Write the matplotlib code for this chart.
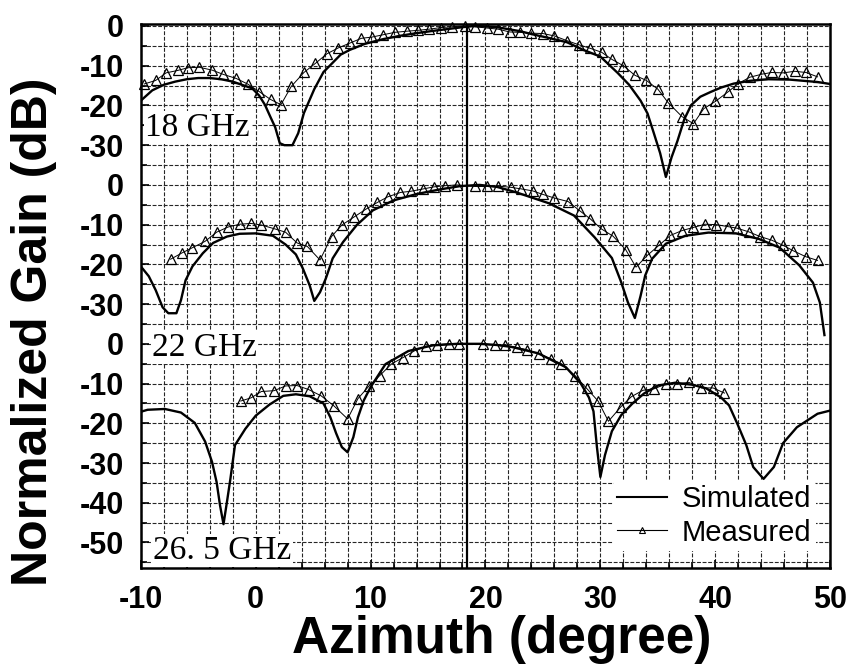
import matplotlib

matplotlib.use("Agg")

import numpy as np
import matplotlib.pyplot as plt
from matplotlib.lines import Line2D
from matplotlib.ticker import FixedLocator, MultipleLocator

plt.rcParams["axes.unicode_minus"] = False

# ---- Data (dB, each band normalized to its own 0 dB) ----
# 18 GHz
sim18_x = [-10, -9, -8, -7, -6, -5, -4, -3, -2, -1, -0.3, 0.3, 0.8, 1.3, 1.7,
           2.1, 2.5, 3.2, 3.7, 4.2, 5.1, 5.9, 7.4, 8.2, 9.5, 11.1, 12.5, 14,
           15.5, 16.9, 18, 19, 20, 21, 22, 23, 24.1, 25.5, 27.1, 28.5, 30,
           31.5, 32.5, 33.5, 34.1, 34.6, 35.2, 35.7, 36.2, 36.7, 37.3, 37.9,
           38.7, 39.6, 40.5, 41.6, 43, 44.6, 46.5, 48.9, 50]
sim18_y = [-18.8, -16.2, -14.8, -14.0, -13.4, -13.1, -13.1, -13.4, -14.0,
           -15.0, -15.7, -17.5, -19.8, -23.0, -25.5, -29.5, -30.0, -30.0,
           -27.0, -21.9, -15.9, -11.6, -7.2, -6.0, -4.5, -3.3, -2.5, -1.8,
           -1.2, -0.7, -0.3, 0.0, -0.1, -0.3, -0.8, -1.3, -2.1, -3.0, -4.1,
           -6.0, -7.7, -11.8, -14.8, -18.8, -22.0, -26.5, -32.0, -38.0, -33.0,
           -29.0, -23.5, -19.9, -17.8, -16.6, -15.5, -14.5, -13.8, -13.4,
           -13.5, -14.1, -14.6]
meas18_x = [-9.7, -8.7, -7.8, -6.8, -5.9, -4.9, -3.8, -2.8, -1.7, -0.7, 0.3,
            1.3, 2.2, 3.1, 4.2, 5.2, 6.2, 7.2, 8.2, 9.2, 10.1, 11.1, 12.1,
            13.2, 14.1, 15.1, 16.1, 17.1, 18.2, 19.1, 20.1, 21.1, 22.1, 23.0,
            24.0, 25.0, 26.0, 27.1, 28.1, 29.1, 30.1, 31.0, 32.0, 33.0, 34.0,
            35.0, 35.9, 37.1, 38.1, 39.0, 40.0, 41.1, 42.0, 43.0, 44.1, 44.9,
            45.9, 46.9, 47.9, 48.9]
meas18_y = [-14.6, -13.7, -11.8, -11.2, -10.5, -10.4, -11.1, -12.2, -13.2,
            -14.6, -16.5, -18.5, -19.8, -15.2, -11.7, -9.4, -7.0, -5.5, -4.3,
            -3.1, -2.8, -2.2, -1.6, -1.3, -1.1, -0.8, -0.4, -0.2, 0.0, -0.2,
            -0.5, -0.8, -1.5, -1.6, -1.8, -1.9, -2.5, -3.7, -4.7, -5.6, -6.6,
            -8.4, -10.0, -12.4, -13.7, -15.9, -19.3, -22.8, -24.6, -20.8,
            -19.0, -16.6, -14.5, -12.9, -12.1, -11.7, -11.8, -11.4, -11.7,
            -12.8]

# 22 GHz
sim22_x = [-10, -9.3, -8.7, -8.1, -7.6, -6.9, -6.5, -6.1, -5.5, -4.6, -3.7,
           -2.5, -1.4, 0, 1.5, 2.6, 3.5, 4.1, 4.7, 5.1, 5.6, 6.1, 6.7, 7.6,
           8.8, 10.2, 12, 14, 16.1, 17.8, 19.5, 21, 22.6, 25.5, 27.7, 29.5,
           31, 31.8, 32.4, 33, 33.5, 33.9, 34.5, 35.7, 37.4, 39.4, 41.8, 43.8,
           45.6, 47.3, 48.5, 49.1, 49.5]
sim22_y = [-20.5, -23.0, -26.5, -30.8, -32.3, -32.3, -29.0, -24.0, -20.5,
           -17.2, -14.6, -13.0, -12.3, -12.2, -12.8, -15.0, -17.5, -21.0,
           -25.3, -29.2, -27.0, -23.6, -18.5, -14.4, -10.1, -6.4, -3.9, -2.3,
           -1.1, -0.3, 0.0, -0.5, -1.8, -4.6, -7.7, -13.2, -18.4, -24.4,
           -29.6, -33.5, -27.9, -22.8, -18.6, -14.8, -12.8, -12.0, -12.2,
           -13.6, -15.8, -20.2, -24.6, -29.6, -37.8]
meas22_x = [-7.4, -6.4, -5.5, -4.4, -3.4, -2.4, -1.4, -0.4, 0.5, 1.7, 2.6,
            3.6, 4.5, 5.6, 6.6, 7.5, 8.6, 9.6, 10.6, 11.5, 12.6, 13.5, 14.6,
            15.5, 16.5, 17.5, 19.1, 20.1, 21.1, 22.2, 23.1, 24.1, 25.0, 26.0,
            27.2, 28.2, 29.1, 30.1, 31.1, 32.2, 33.1, 34.1, 35.1, 36.1, 37.1,
            38.1, 39.1, 40.1, 41.1, 41.9, 42.9, 43.9, 44.9, 45.9, 46.8, 47.9,
            48.9]
meas22_y = [-18.7, -17.1, -15.8, -14.2, -11.9, -10.6, -9.9, -9.7, -10.1,
            -11.1, -11.9, -14.6, -15.5, -18.9, -13.0, -10.1, -8.0, -6.1, -4.4,
            -3.0, -1.9, -1.6, -1.0, -0.5, -0.2, 0.0, -0.4, -0.4, -0.3, -0.6,
            -1.0, -1.5, -2.4, -3.3, -4.2, -6.5, -8.5, -11.1, -12.9, -16.3,
            -20.7, -17.7, -15.2, -12.7, -11.5, -10.7, -9.9, -10.0, -10.5,
            -10.9, -11.8, -13.0, -13.9, -15.2, -16.6, -18.1, -19.0]

# 26.5 GHz
sim26_x = [-10, -9.4, -7.9, -6.5, -5.3, -4.4, -3.8, -3.4, -3.1, -2.8, -2.5,
           -2.2, -1.8, -0.9, 0, 1.2, 2.4, 3.5, 4.7, 5.9, 6.5, 7.0, 7.5, 8.0,
           8.5, 8.9, 9.4, 10, 11.3, 13.3, 15.4, 17.5, 19.5, 21, 22.3, 24.6, 27,
           28.3, 29, 29.4, 29.7, 30, 30.4, 31, 31.8, 32.8, 33.8, 35, 36.5, 38,
           39.2, 40.5, 41.2, 41.9, 42.7, 43.3, 44.2, 45.1, 45.9, 47.1, 48.9,
           50]
sim26_y = [-17.1, -16.6, -16.4, -17.3, -19.9, -24.6, -29.7, -34.8, -40.7,
           -45.4, -39.8, -34.0, -25.5, -21.4, -18.1, -15.3, -13.1, -12.7,
           -13.2, -15.0, -18.5, -22.5, -26.0, -27.3, -23.5, -18.5, -14.3,
           -10.9, -5.1, -1.8, -0.4, 0.0, 0.0, -0.3, -0.8, -2.4, -5.9, -10.0,
           -13.5, -17.0, -26.0, -33.5, -28.0, -22.0, -18.0, -15.0, -12.5,
           -10.5, -9.8, -10.3, -11.2, -13.5, -15.5, -20.0, -25.5, -31.0, -34.0,
           -31.0, -25.0, -21.0, -17.6, -16.8]
meas26_x = [-1.3, -0.4, 0.5, 1.6, 2.6, 3.6, 4.6, 5.7, 6.8, 8.0, 8.9, 9.9,
            10.8, 11.8, 12.8, 13.8, 14.8, 15.8, 16.8, 17.7, 19.8, 20.8, 21.7,
            22.7, 23.6, 24.7, 25.7, 26.6, 27.8, 28.8, 29.8, 30.7, 31.8, 32.7,
            33.7, 34.7, 35.7, 36.7, 37.7, 38.8, 39.8, 40.8]
meas26_y = [-14.4, -13.6, -12.0, -11.8, -10.6, -10.5, -11.5, -13.1, -15.6,
            -18.9, -13.8, -10.5, -8.0, -5.1, -3.5, -1.8, -0.6, -0.2, 0.0, 0.0,
            -0.1, -0.3, -0.3, -0.9, -1.5, -2.6, -3.8, -5.0, -8.0, -11.2, -14.4,
            -19.5, -15.8, -13.3, -11.7, -11.3, -10.1, -10.1, -9.7, -11.1,
            -11.1, -12.4]

band_names = ["18 GHz", "22 GHz", "26. 5 GHz"]
band_offsets = [0, -40, -80]  # vertical stacking on the shared axis
ytick_pos = [0, -10, -20, -30, -40, -50, -60, -70, -80, -90, -100, -110,
             -120, -130]
ytick_labels = ["0", "-10", "-20", "-30", "0", "-10", "-20", "-30", "0",
                "-10", "-20", "-30", "-40", "-50"]
xtick_pos = [-10, 0, 10, 20, 30, 40, 50]
xtick_labels = ["-10", "0", "10", "20", "30", "40", "50"]
marker_angle = 18.4  # solid vertical reference line


fig = plt.figure(figsize=(8.48, 6.67), dpi=100)
ax = fig.add_axes([0.166, 0.148, 0.813, 0.816])

sims = [(sim18_x, sim18_y), (sim22_x, sim22_y), (sim26_x, sim26_y)]
meas = [(meas18_x, meas18_y), (meas22_x, meas22_y), (meas26_x, meas26_y)]
for (sx, sy), (mx, my), off in zip(sims, meas, band_offsets):
    ax.plot(sx, np.array(sy) + off, color="black", lw=1.7, zorder=4)
    ax.plot(mx, np.array(my) + off, color="black", lw=0.7, marker="^",
            ms=6.5, mfc="none", mec="black", mew=0.9, zorder=5, clip_on=False)

ax.axvline(marker_angle, color="black", lw=1.6, zorder=3)

# band labels, white box so the grid does not run through them
label_pos = [(-9.6, -25.6), (-9.0, -81.0), (-8.9, -132.0)]
for name, (tx, ty) in zip(band_names, label_pos):
    ax.text(tx, ty, name, family="Liberation Serif", fontsize=24,
            ha="left", va="center", zorder=6,
            bbox=dict(fc="white", ec="none", pad=1.0))

ax.set_xlim(-10, 50)
ax.set_ylim(-136.5, 0.5)
ax.xaxis.set_major_locator(FixedLocator(xtick_pos))
ax.set_xticklabels(xtick_labels)
ax.xaxis.set_minor_locator(MultipleLocator(2))
ax.yaxis.set_major_locator(FixedLocator(ytick_pos))
ax.set_yticklabels(ytick_labels)
ax.yaxis.set_minor_locator(MultipleLocator(5))

ax.grid(which="both", color="0.15", lw=0.8, ls=(0, (3.5, 1.5)), zorder=1)
ax.tick_params(which="both", direction="in", color="black", width=1.2)
ax.tick_params(which="major", length=6)
ax.tick_params(which="minor", length=4)
ax.tick_params(axis="y", pad=12)
ax.tick_params(axis="x", pad=12)
for lab in ax.get_xticklabels() + ax.get_yticklabels():
    lab.set_fontfamily("Liberation Sans")
    lab.set_fontweight("bold")
    lab.set_fontsize(22)
for sp in ax.spines.values():
    sp.set_linewidth(1.8)

ax.set_xlabel("Azimuth (degree)", family="Liberation Sans",
              fontweight="bold", fontsize=37)
ax.set_ylabel("Normalized Gain (dB)", family="Liberation Sans",
              fontweight="bold", fontsize=36)
ax.xaxis.set_label_coords(0.524, -0.085)
ax.yaxis.set_label_coords(-0.122, 0.434)

handles = [
    Line2D([], [], color="black", lw=1.5),
    Line2D([], [], color="black", lw=0.8, marker="^", ms=5, mfc="none",
           mec="black", mew=0.8),
]
leg = ax.legend(handles, ["Simulated", "Measured"], loc="lower right",
                bbox_to_anchor=(1.0, 0.005), frameon=True, facecolor="white",
                edgecolor="none", framealpha=1.0, handlelength=1.7,
                handletextpad=0.5, borderpad=0.15, labelspacing=0.2,
                prop={"family": "Liberation Sans", "size": 21})
# keep the legend box under the curves so the 26.5 GHz null stays visible
leg.set_zorder(3.5)

fig.savefig("out.png", dpi=100)
